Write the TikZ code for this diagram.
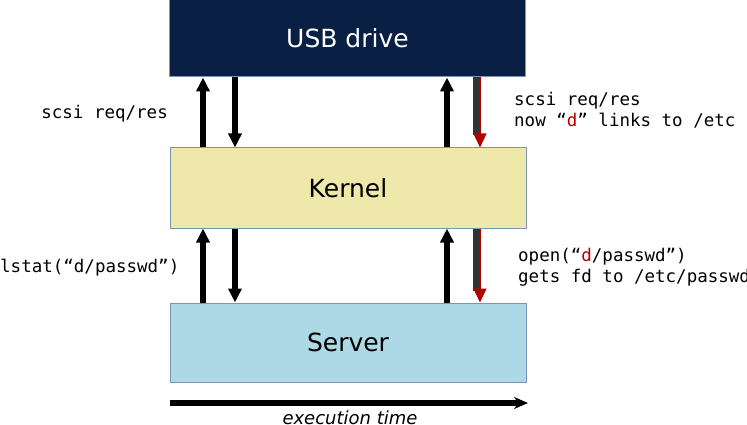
\documentclass[tikz,border=0pt]{standalone}
\usepackage{fontspec}
\setmainfont{DejaVu Sans}
\newfontfamily\monof{DejaVu Sans Mono}
\usetikzlibrary{arrows.meta}
\definecolor{usbcol}{HTML}{0A1F44}
\definecolor{kerncol}{HTML}{EEE8AA}
\definecolor{servcol}{HTML}{ADD8E6}
\definecolor{bordcol}{HTML}{7F93B5}
\definecolor{redd}{HTML}{B00000}
\begin{document}
\begin{tikzpicture}[x=1pt,y=-1pt,
  box/.style={draw=bordcol,line width=1pt,minimum width=356pt,inner sep=0pt,font=\fontsize{25}{30}\selectfont},
  blk/.style={line width=6pt,draw=black,-{Triangle[width=13pt,length=14pt]}},
  shaft/.style={line width=6pt,draw=black!80},
  redtip/.style={line width=1.3pt,draw=redd,-{Triangle[width=13pt,length=14pt]}},
  lbl/.style={font=\monof\fontsize{17.5}{21}\selectfont,inner sep=0pt,align=left},
]
\useasboundingbox (0,0) rectangle (747,425);
\node[box,fill=usbcol,text=white,minimum height=77pt] (usb) at (347.5,38.5) {USB drive};
\node[box,fill=kerncol,minimum height=80pt] (kernel) at (348,188) {Kernel};
\node[box,fill=servcol,minimum height=79pt] (server) at (348,342.5) {Server};
\coordinate (xa) at (203,0);
\coordinate (xb) at (235,0);
\coordinate (xc) at (447,0);
\coordinate (xd) at (476,0);
\coordinate (xe) at (480,0);
% upper pairs
\draw[blk] (kernel.north -| xa) -- (usb.south -| xa);
\draw[blk] (usb.south -| xb) -- (kernel.north -| xb);
\draw[blk] (kernel.north -| xc) -- (usb.south -| xc);
\draw[shaft] (usb.south -| xd) -- ([yshift=12pt]kernel.north -| xd);
\draw[redtip] (usb.south -| xe) -- (kernel.north -| xe);
% lower pairs
\draw[blk] (server.north -| xa) -- (kernel.south -| xa);
\draw[blk] (kernel.south -| xb) -- (server.north -| xb);
\draw[blk] (server.north -| xc) -- (kernel.south -| xc);
\draw[shaft] (kernel.south -| xd) -- ([yshift=12pt]server.north -| xd);
\draw[redtip] (kernel.south -| xe) -- (server.north -| xe);
% labels
\node[lbl,anchor=east] (l1) at (168,114) {scsi req/res};
\node[lbl,anchor=west] (l2) at (514,110) {scsi req/res\\now “\textcolor{redd}{d}” links to /etc};
\node[lbl,anchor=west] (l3) at (0,268) {lstat(“d/passwd”)};
\node[lbl,anchor=west] (l4) at (518,267) {open(“\textcolor{redd}{d}/passwd”)\\gets fd to /etc/passwd};
% time axis
\coordinate (t0) at (170,403);
\coordinate (t1) at (528,403);
\draw[line width=6pt,-{Stealth[length=14pt,width=12pt]}] (t0) -- (t1);
\node[font=\itshape\fontsize{18}{22}\selectfont,inner sep=0pt] (et) at (350,418) {execution time};
\end{tikzpicture}
\end{document}
